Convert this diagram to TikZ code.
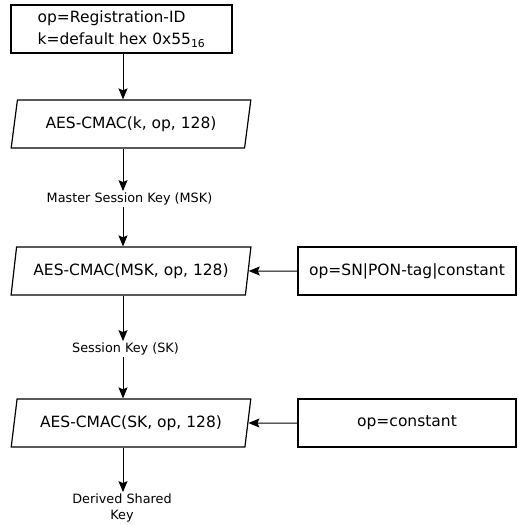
\documentclass[tikz,border=0pt]{standalone}
\usepackage{fontspec}
\setmainfont{DejaVu Sans}
\usetikzlibrary{shapes.geometric,arrows.meta}
\begin{document}
\begin{tikzpicture}[x=1pt,y=-1pt,
 box/.style={draw, line width=1.2pt, minimum height=48pt, inner sep=0pt, font=\fontsize{15.5}{22}\selectfont},
 para/.style={box, trapezium, trapezium left angle=72.6, trapezium right angle=107.4, trapezium stretches=true, minimum width=240pt},
 lbl/.style={font=\fontsize{12.8}{16}\selectfont, inner sep=1.5pt, align=center},
 arr/.style={-{Stealth[length=11pt,width=9pt,inset=2pt]}, line width=1pt}]
\useasboundingbox (0,0) rectangle (517,525);
\coordinate (spine) at (123,0);
\node[box, minimum width=221pt, align=left] (top) at (121.5,29) {op=Registration-ID\\k=default hex 0x55\textsubscript{16}};
\node[para] (p1) at (131,124) {AES-CMAC(k, op, 128)};
\node[lbl] (msk) at (129.5,199) {Master Session Key (MSK)};
\node[para] (p2) at (131,271) {AES-CMAC(MSK, op, 128)};
\node[box, minimum width=218pt] (r2) at (407,271) {op=SN|PON-tag|constant};
\node[lbl] (sk) at (125.5,349) {Session Key (SK)};
\node[para] (p3) at (131,423) {AES-CMAC(SK, op, 128)};
\node[box, minimum width=218pt] (r3) at (407,423) {op=constant};
\node[lbl] (dsk) at (122,508) {Derived Shared\\Key};
\draw[arr] (top.south -| spine) -- (p1.north -| spine);
\draw[arr] (p1.south -| spine) -- (msk.north -| spine);
\draw[arr] (msk.south -| spine) -- (p2.north -| spine);
\draw[arr] (p2.south -| spine) -- (sk.north -| spine);
\draw[arr] (sk.south -| spine) -- (p3.north -| spine);
\draw[arr] (p3.south -| spine) -- (dsk.north -| spine);
\draw[arr] (r2.west) -- (p2.east);
\draw[arr] (r3.west) -- (p3.east);
\end{tikzpicture}
\end{document}
